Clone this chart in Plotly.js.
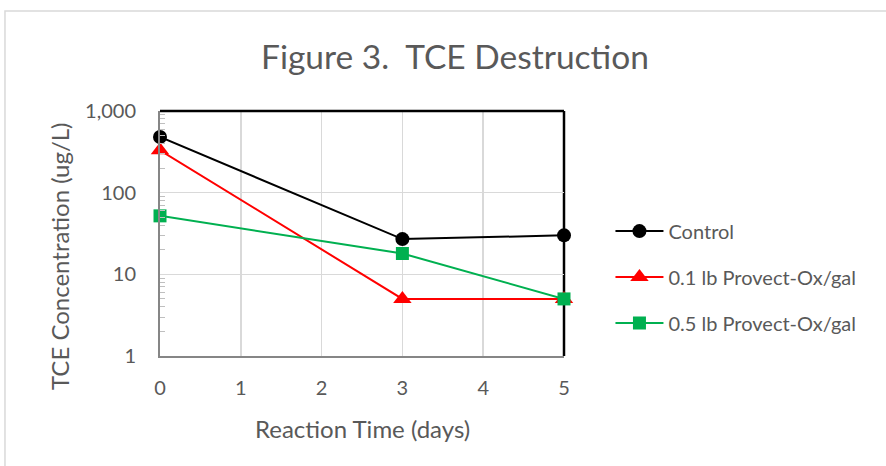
<!DOCTYPE html>
<html><head><meta charset="utf-8">
<script src="https://cdn.plot.ly/plotly-3.0.1.min.js"></script>
<style>html,body{margin:0;padding:0;background:#fff}#c{width:886px;height:466px}</style>
</head><body><div id="c"></div>
<script>
const days = [0, 3, 5];
const control = [480, 27, 30];
const provect01 = [330, 5, 5];
const provect05 = [52, 18, 5];
const seriesNames = ["Control", "0.1 lb Provect-Ox/gal", "0.5 lb Provect-Ox/gal"];
const yTickVals = [1, 10, 100, 1000];
const yTickText = ["1", "10", "100", "1,000"];
const yMinorVals = [2,3,4,5,6,7,8,9,20,30,40,50,60,70,80,90,200,300,400,500,600,700,800,900];
const xTickVals = [0, 1, 2, 3, 4, 5];

const F = "Lato, 'Open Sans', sans-serif";
const gray = "#595959";
const traces = [
  {x: days, y: control, name: seriesNames[0], legendgroup: "a", mode: "lines+markers", cliponaxis: false,
   line: {color: "#000000", width: 2}, marker: {symbol: "circle", size: 14, color: "#000000"}},
  {x: days, y: provect01, name: seriesNames[1], legendgroup: "b", mode: "lines+markers", cliponaxis: false,
   line: {color: "#ff0000", width: 2}, marker: {symbol: "triangle-up", size: 16, color: "#ff0000"}},
  {x: days, y: provect05, name: seriesNames[2], legendgroup: "c", mode: "lines+markers", cliponaxis: false,
   line: {color: "#00b050", width: 2}, marker: {symbol: "square", size: 13, color: "#00b050"}}
];
const layout = {
  width: 886, height: 466,
  margin: {l: 160, r: 322, t: 111, b: 110},
  paper_bgcolor: "#fff", plot_bgcolor: "#fff",
  font: {family: F, color: gray, size: 20},
  title: {text: "Figure 3.  TCE Destruction", font: {family: F, size: 33.5, color: gray},
          x: 0.5135, xanchor: "center", y: 0.878, yanchor: "middle"},
  xaxis: {range: [0, 5], tickvals: xTickVals, showgrid: true, gridcolor: "#d9d9d9", gridwidth: 1.5,
          showline: true, linecolor: "#868686", linewidth: 2, zeroline: false,
          ticks: "", ticklabelstandoff: 13, tickfont: {size: 20, color: gray}},
  yaxis: {type: "log", range: [0, 3], tickvals: yTickVals, ticktext: yTickText,
          showgrid: true, gridcolor: "#d9d9d9", gridwidth: 1.5,
          showline: true, linecolor: "#868686", linewidth: 2, zeroline: false,
          ticks: "", ticklabelstandoff: 18, tickfont: {size: 20, color: gray},
          minor: {tickvals: yMinorVals, ticks: "inside", ticklen: 5, tickwidth: 1, tickcolor: "#bfbfbf", showgrid: false}},
  legend: {x: 1.115, xanchor: "left", y: 0.322, yanchor: "middle", font: {size: 20, color: gray},
           traceorder: "grouped", tracegroupgap: 17, itemwidth: 48, bgcolor: "rgba(0,0,0,0)"},
  annotations: [
    {text: "Reaction Time (days)", xref: "paper", yref: "paper", x: 0.5, y: -0.294,
     xanchor: "center", yanchor: "middle", showarrow: false, font: {size: 24, color: gray}},
    {text: "TCE Concentration (ug/L)", xref: "paper", yref: "paper", x: -0.25, y: 0.408, textangle: -90,
     xanchor: "center", yanchor: "middle", showarrow: false, font: {size: 24, color: gray}}
  ],
  shapes: [
    {type: "line", xref: "paper", yref: "paper", x0: 0, x1: 1, y0: 1, y1: 1, line: {color: "#000", width: 2.5}, layer: "above"},
    {type: "line", xref: "paper", yref: "paper", x0: 1, x1: 1, y0: 0, y1: 1, line: {color: "#000", width: 2.5}, layer: "below"},
    {type: "rect", xref: "paper", yref: "paper", x0: -0.3837, x1: 1.9, y0: -0.6, y1: 1.408, line: {color: "#d9d9d9", width: 1.5}, layer: "below"}
  ]
};
Plotly.newPlot("c", traces, layout, {staticPlot: true});
</script></body></html>
